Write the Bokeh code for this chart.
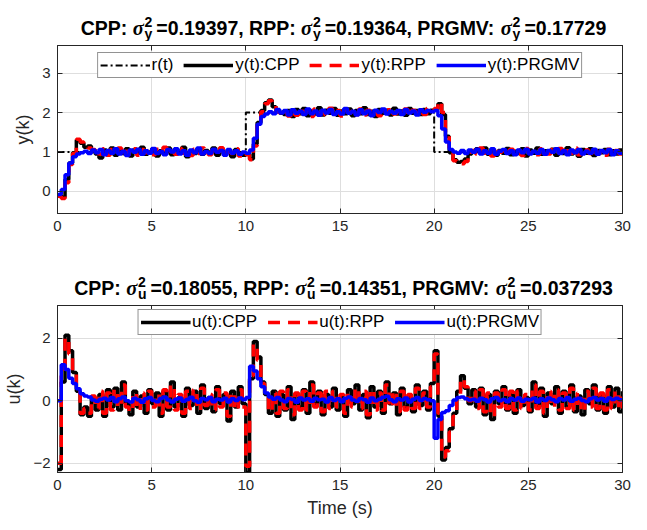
import numpy as np
from bokeh.plotting import figure
from bokeh.models import Range1d, LinearAxis, FixedTicker
from bokeh.core.properties import value
from bokeh.layouts import column
from bokeh.embed import file_html
from bokeh.resources import INLINE

# ---------------------------------------------------------------- data
SAMPLE_TIME = 0.2  # s

# reference r(t): level held from each switch time
ref_switch_times = [0, 10, 20, 30]
ref_levels = [1, 2, 1, 1]

y_cpp = [
    -0.10, -0.15, 0.30, 0.72, 0.98, 1.30, 1.22, 1.12, 1.15, 1.05,
    0.95, 0.85, 1.05, 0.98, 1.10, 0.92, 1.04, 0.96, 1.08, 0.90,
    1.05, 0.97, 1.12, 0.94, 1.00, 1.08, 0.90, 1.03, 0.95, 1.10,
    0.93, 1.06, 0.98, 1.12, 0.88, 1.02, 0.96, 1.08, 0.94, 1.04,
    0.97, 1.10, 0.92, 1.05, 0.95, 1.03, 0.88, 1.06, 0.97, 0.92,
    0.95, 0.82, 1.20, 1.75, 2.05, 2.25, 2.32, 2.15, 2.05, 1.98,
    1.95, 2.05, 1.90, 2.08, 1.97, 2.10, 1.92, 2.04, 1.96, 2.12,
    1.94, 2.06, 1.98, 2.10, 1.93, 2.04, 1.97, 2.09, 1.92, 2.05,
    1.97, 2.12, 1.95, 2.03, 1.90, 2.08, 1.98, 2.06, 1.94, 2.11,
    1.96, 2.04, 1.93, 2.10, 1.98, 2.05, 1.95, 2.08, 1.97, 2.06,
    2.08, 2.22, 1.95, 1.40, 0.98, 0.80, 0.74, 0.76, 0.82, 0.95,
    1.02, 1.08, 0.98, 1.10, 0.94, 1.05, 0.92, 1.04, 0.97, 1.09,
    0.93, 1.02, 0.96, 1.08, 0.90, 1.05, 0.97, 1.10, 0.94, 1.03,
    0.98, 1.07, 0.92, 1.04, 0.96, 1.11, 0.95, 1.02, 0.89, 1.06,
    0.97, 1.08, 0.91, 1.04, 0.98, 1.06, 0.93, 1.03, 0.95, 1.05,
    0.97,
]

y_rpp = [
    -0.12, -0.18, 0.22, 0.68, 0.96, 1.32, 1.25, 1.15, 1.10, 1.06,
    0.90, 0.95, 1.08, 0.92, 1.06, 0.97, 1.10, 0.93, 1.02, 0.95,
    1.08, 0.92, 1.06, 0.98, 1.04, 0.93, 1.07, 0.99, 1.12, 0.95,
    1.01, 0.94, 1.09, 0.97, 1.03, 0.91, 1.07, 0.96, 1.10, 0.98,
    0.93, 1.05, 0.99, 1.11, 0.94, 1.02, 0.96, 1.08, 0.90, 0.97,
    0.93, 0.80, 1.15, 1.72, 2.02, 2.22, 2.30, 2.18, 2.02, 1.94,
    2.02, 1.91, 2.06, 1.93, 2.08, 1.99, 2.05, 1.90, 2.09, 1.97,
    2.02, 1.93, 2.11, 1.96, 2.05, 1.91, 2.07, 1.99, 2.04, 1.95,
    2.09, 1.94, 2.06, 1.98, 2.03, 1.92, 2.07, 2.00, 2.12, 1.96,
    2.03, 1.97, 2.09, 1.93, 2.06, 1.99, 2.04, 1.95, 2.10, 2.04,
    2.10, 2.27, 2.00, 1.45, 1.00, 0.78, 0.72, 0.70, 0.76, 0.93,
    1.04, 0.95, 1.10, 0.97, 1.05, 0.90, 1.06, 0.99, 1.03, 0.94,
    1.07, 0.96, 1.04, 0.91, 1.09, 0.98, 1.02, 0.93, 1.08, 1.00,
    0.95, 1.06, 0.98, 1.09, 0.94, 1.03, 0.97, 1.10, 0.93, 1.01,
    1.05, 0.96, 1.08, 0.95, 1.02, 0.92, 1.07, 0.99, 1.04, 0.95,
    0.98,
]

y_prgmv = [
    -0.08, 0.05, 0.42, 0.72, 0.88, 0.95, 0.98, 1.02, 0.96, 1.05,
    0.98, 1.06, 0.93, 1.04, 0.97, 1.08, 0.95, 1.02, 0.91, 1.05,
    0.99, 1.07, 0.94, 1.03, 0.97, 1.09, 0.96, 1.01, 0.93, 1.06,
    1.00, 1.08, 0.95, 1.03, 0.92, 1.05, 0.98, 1.10, 0.95, 1.01,
    0.96, 1.07, 0.99, 1.04, 0.92, 1.06, 0.97, 1.03, 0.94, 1.00,
    0.97, 1.05, 1.35, 1.70, 1.90, 1.96, 2.02, 1.97, 2.08, 1.99,
    2.05, 1.94, 2.07, 1.98, 2.03, 1.95, 2.09, 1.97, 2.04, 1.93,
    2.06, 1.99, 2.08, 1.95, 2.02, 1.96, 2.10, 1.98, 2.03, 1.94,
    2.07, 1.97, 2.04, 1.92, 2.06, 2.00, 2.09, 1.96, 2.03, 1.98,
    2.05, 1.95, 2.08, 1.99, 2.04, 1.94, 2.07, 2.01, 2.05, 2.02,
    2.05, 1.92, 1.58, 1.25, 1.06, 1.00, 0.97, 1.04, 0.96, 1.05,
    0.99, 1.07, 0.95, 1.03, 0.97, 1.08, 0.94, 1.02, 1.06, 0.96,
    1.03, 0.93, 1.05, 0.98, 1.07, 0.95, 1.02, 0.97, 1.06, 0.94,
    1.04, 0.99, 1.08, 0.96, 1.03, 0.93, 1.05, 0.98, 1.06, 0.95,
    1.02, 0.97, 1.07, 0.94, 1.04, 0.98, 1.06, 0.93, 1.03, 0.97,
    0.95,
]

u_cpp = [
    -2.20, 0.60, 2.10, 1.60, 0.90, 0.30, -0.45, -0.20, -0.50, 0.10,
    -0.30, 0.20, -0.50, 0.35, -0.20, 0.40, -0.30, 0.60, -0.10, -0.45,
    0.30, -0.20, 0.15, -0.40, 0.35, -0.10, 0.25, -0.50, 0.30, -0.30,
    0.60, -0.20, 0.10, -0.50, 0.40, -0.15, 0.30, -0.40, 0.50, -0.25,
    0.10, -0.35, 0.45, -0.10, 0.20, -0.65, 0.30, -0.20, 0.45, -0.10,
    -2.30, 0.70, 1.90, 1.40, 0.60, 0.20, -0.40, 0.30, -0.50, 0.20,
    -0.30, 0.45, -0.60, 0.20, -0.20, 0.35, -0.40, 0.60, -0.10, 0.30,
    -0.45, 0.20, -0.20, 0.40, -0.30, 0.10, -0.50, 0.35, -0.10, 0.50,
    -0.30, 0.20, -0.55, 0.45, -0.20, 0.30, -0.40, 0.60, -0.10, 0.25,
    -0.45, 0.40, -0.20, 0.10, -0.35, 0.50, -0.15, 0.30, -0.30, 0.55,
    1.60, -0.50, -1.90, -1.50, -0.90, -0.40, 0.30, 0.80, 0.40, -0.10,
    0.35, -0.20, 0.40, -0.45, 0.20, -0.60, 0.30, -0.10, 0.45, -0.30,
    0.20, -0.40, 0.35, -0.15, 0.10, -0.35, 0.60, -0.20, 0.40, -0.50,
    0.25, -0.10, 0.45, -0.40, 0.30, -0.20, 0.50, -0.35, 0.15, -0.45,
    0.35, -0.10, 0.50, -0.30, 0.20, -0.40, 0.45, -0.20, 0.40, -0.35,
    0.30,
]

u_rpp = [
    -2.00, 0.80, 2.00, 1.50, 0.85, 0.25, -0.40, -0.25, -0.40, 0.15,
    -0.25, 0.30, -0.40, 0.25, -0.30, 0.35, -0.20, 0.50, -0.20, -0.35,
    0.25, -0.30, 0.25, -0.30, 0.30, -0.20, 0.20, -0.40, 0.35, -0.20,
    0.50, -0.30, 0.20, -0.40, 0.30, -0.25, 0.35, -0.30, 0.40, -0.15,
    0.20, -0.30, 0.35, -0.20, 0.25, -0.50, 0.25, -0.30, 0.35, -0.20,
    -2.10, 0.80, 1.80, 1.30, 0.55, 0.15, -0.35, 0.25, -0.40, 0.30,
    -0.25, 0.35, -0.45, 0.25, -0.30, 0.30, -0.30, 0.50, -0.20, 0.25,
    -0.35, 0.30, -0.25, 0.30, -0.20, 0.20, -0.40, 0.25, -0.20, 0.40,
    -0.25, 0.30, -0.45, 0.35, -0.30, 0.25, -0.30, 0.50, -0.20, 0.30,
    -0.35, 0.30, -0.30, 0.20, -0.25, 0.40, -0.25, 0.25, -0.20, 0.45,
    1.50, -0.40, -1.80, -1.60, -1.00, -0.50, 0.20, 0.70, 0.45, 0.00,
    0.30, -0.25, 0.35, -0.35, 0.25, -0.50, 0.25, -0.20, 0.35, -0.25,
    0.30, -0.30, 0.30, -0.25, 0.20, -0.30, 0.50, -0.25, 0.30, -0.40,
    0.30, -0.20, 0.35, -0.30, 0.25, -0.25, 0.40, -0.30, 0.25, -0.35,
    0.30, -0.20, 0.40, -0.25, 0.25, -0.30, 0.35, -0.25, 0.30, -0.30,
    0.25,
]

u_prgmv = [
    0.00, 1.15, 1.00, 0.72, 0.55, 0.38, 0.22, 0.15, 0.12, 0.02,
    -0.02, 0.05, 0.08, 0.02, 0.10, -0.03, 0.06, 0.12, 0.00, -0.04,
    0.08, 0.03, -0.05, 0.06, 0.10, 0.01, -0.03, 0.07, 0.12, 0.02,
    -0.04, 0.05, 0.09, -0.02, 0.04, 0.11, 0.00, -0.05, 0.07, 0.03,
    0.10, -0.03, 0.05, 0.02, 0.08, -0.04, 0.06, 0.01, 0.09, 0.03,
    0.10, 1.10, 0.95, 0.70, 0.45, 0.25, 0.12, 0.05, 0.10, 0.02,
    -0.03, 0.07, 0.04, -0.05, 0.09, 0.02, 0.06, -0.02, 0.08, 0.03,
    0.05, -0.04, 0.10, 0.01, 0.06, -0.03, 0.08, 0.12, 0.02, -0.02,
    0.07, 0.03, -0.05, 0.09, 0.00, 0.05, 0.11, 0.14, 0.03, -0.03,
    0.06, 0.02, 0.09, -0.04, 0.05, 0.10, 0.01, 0.07, 0.03, 0.00,
    -1.20, -0.60, -0.38, -0.32, -0.15, 0.02, 0.10, 0.12, 0.06, 0.02,
    0.05, -0.02, 0.08, 0.03, -0.04, 0.06, 0.10, 0.00, 0.04, -0.03,
    0.07, 0.02, 0.09, -0.02, 0.05, 0.03, 0.08, -0.04, 0.06, 0.01,
    0.09, 0.03, -0.03, 0.07, 0.02, 0.10, -0.02, 0.05, 0.08, 0.01,
    -0.03, 0.06, 0.10, 0.02, 0.07, -0.02, 0.09, 0.04, 0.08, 0.03,
    0.06,
]

controllers = ["CPP", "RPP", "PRGMV"]
var_y = [0.19397, 0.19364, 0.17729]
var_u = [0.18055, 0.14351, 0.037293]

x_ticks = [0, 5, 10, 15, 20, 25, 30]
y_ticks_top = [0, 1, 2, 3]
y_ticks_bottom = [-2, 0, 2]

t = np.arange(len(y_cpp)) * SAMPLE_TIME

# ---------------------------------------------------------------- style
AX = "#262626"
GRID = "#dedede"
FONT = "Liberation Sans"
SERIF = "Liberation Serif"
W = 647
FRAME_LEFT, FRAME_RIGHT = 57, 25
X_RANGE = (0, 30)
TITLE_CENTER = 343

# Liberation Sans Bold advance widths (em) for the title characters
BOLD_ADV = {" ": 0.278, ",": 0.278, ".": 0.278, ":": 0.333, "=": 0.584,
            "C": 0.722, "G": 0.778, "M": 0.833, "P": 0.667, "R": 0.722,
            "V": 0.667, "u": 0.611, "y": 0.556, "2": 0.556}


def text_width(s, size):
    return sum(BOLD_ADV.get(c, 0.556) for c in s) * size


def make_fig(height, top, bottom, y_range, y_ticks, ylabel, xlabel=None):
    p = figure(width=W, height=height,
               x_range=Range1d(*X_RANGE), y_range=Range1d(*y_range),
               output_backend="svg", toolbar_location=None,
               min_border_left=FRAME_LEFT, min_border_right=FRAME_RIGHT,
               min_border_top=top, min_border_bottom=bottom)
    p.background_fill_color = "white"
    p.border_fill_color = "white"
    p.outline_line_color = AX
    p.outline_line_width = 1

    p.xaxis.ticker = FixedTicker(ticks=x_ticks)
    p.yaxis.ticker = FixedTicker(ticks=y_ticks)
    # box axes on the top and right: inward ticks only
    top_ax = LinearAxis(ticker=FixedTicker(ticks=x_ticks),
                        major_label_overrides={v: "" for v in x_ticks})
    right_ax = LinearAxis(ticker=FixedTicker(ticks=y_ticks),
                          major_label_overrides={v: "" for v in y_ticks})
    p.add_layout(top_ax, "above")
    p.add_layout(right_ax, "right")
    for ax in p.axis:
        ax.axis_line_color = AX
        ax.axis_line_width = 1
        ax.major_tick_line_color = AX
        ax.major_tick_in = 5
        ax.major_tick_out = 0
        ax.minor_tick_line_color = None
        ax.major_label_text_font = FONT
        ax.major_label_text_font_size = "15px"
        ax.major_label_text_color = AX
        ax.major_label_standoff = 7
    for ax in (top_ax, right_ax):
        ax.major_label_text_font_size = "1px"
        ax.major_label_standoff = 0

    left = p.left[0]
    left.axis_label = ylabel
    left.axis_label_text_font = FONT
    left.axis_label_text_font_size = "18px"
    left.axis_label_text_font_style = "normal"
    left.axis_label_text_color = AX
    left.axis_label_standoff = 6
    if xlabel:
        below = p.below[0]
        below.axis_label = xlabel
        below.axis_label_text_font = FONT
        below.axis_label_text_font_size = "18px"
        below.axis_label_text_font_style = "normal"
        below.axis_label_text_color = AX
        below.axis_label_standoff = 5

    p.xgrid.grid_line_color = GRID
    p.ygrid.grid_line_color = GRID
    return p


def style_legend(p, margin):
    lg = p.legend[0]
    lg.orientation = "horizontal"
    lg.location = "top_center"
    lg.margin = margin
    lg.padding = 2
    lg.spacing = 10
    lg.glyph_width = 50
    lg.glyph_height = 20
    lg.label_standoff = 2
    lg.label_height = 20
    lg.label_text_font = FONT
    lg.label_text_font_size = "17px"
    lg.label_text_color = "#000000"
    lg.border_line_color = AX
    lg.border_line_width = 1
    lg.background_fill_color = "white"
    lg.background_fill_alpha = 1.0


def title_strip(height, baseline, sub, variances):
    """Bold title line with a stacked sigma^2_sub after each controller name.
    The strip's frame lines up with the plot frames below it; its data
    coordinates are page pixels (x from the page's left, y down from the strip top)."""
    s = figure(width=W, height=height,
               x_range=Range1d(FRAME_LEFT, W - FRAME_RIGHT), y_range=Range1d(height, 0),
               output_backend="svg", toolbar_location=None,
               x_axis_location=None, y_axis_location=None,
               min_border_left=FRAME_LEFT, min_border_right=FRAME_RIGHT,
               min_border_top=0, min_border_bottom=0)
    s.grid.visible = False
    s.outline_line_color = None
    s.background_fill_color = "white"
    s.border_fill_color = "white"

    main, script = 19.5, 14.0
    sigma_adv = 0.58 * main
    slot = text_width(sub, script) + 4.5

    pieces = []
    for i, (name, v) in enumerate(zip(controllers, variances)):
        if i == 0:
            pieces.append(("text", f"{name}: "))
        pieces.append(("sigma", None))
        nxt = f", {controllers[i + 1]}: " if i < len(controllers) - 1 else ""
        pieces.append(("text", f"={v}{nxt}"))

    total = sum(text_width(txt, main) if kind == "text" else sigma_adv + slot
                for kind, txt in pieces)
    x = TITLE_CENTER - total / 2
    tx, tt, gx, sx = [], [], [], []
    for kind, txt in pieces:
        if kind == "text":
            tx.append(x)
            tt.append(txt)
            x += text_width(txt, main)
        else:
            gx.append(x)
            sx.append(x + sigma_adv + 0.5)
            x += sigma_adv + slot

    common = dict(text_align="left", text_baseline="alphabetic", text_color="#000000")
    s.text(x=tx, y=[baseline] * len(tx), text=tt, text_font=value(FONT),
           text_font_size=f"{main}px", text_font_style="bold", **common)
    s.text(x=gx, y=[baseline] * len(gx), text=["\u03c3"] * len(gx), text_font=value(SERIF),
           text_font_size=f"{main + 1}px", text_font_style="bold italic", **common)
    s.text(x=sx, y=[baseline - 6] * len(sx), text=["2"] * len(sx), text_font=value(FONT),
           text_font_size=f"{script}px", text_font_style="bold", **common)
    s.text(x=sx, y=[baseline + 6.5] * len(sx), text=[sub] * len(sx), text_font=value(FONT),
           text_font_size=f"{script}px", text_font_style="bold", **common)
    return s


# ---------------------------------------------------------------- output y(k)
TOP_RANGE = (-0.56, 3.7)
title_y = title_strip(41, 27, "y", var_y)
p1 = make_fig(221, 4, 49, TOP_RANGE, y_ticks_top, "y(k)")
p1.step(ref_switch_times, ref_levels, mode="after", line_color="black", line_width=2,
        line_dash="7 3 2 3", legend_label="r(t)")
p1.step(t, y_cpp, mode="after", line_color="black", line_width=3.5, legend_label="y(t):CPP")
p1.step(t, y_rpp, mode="after", line_color="#ff0000", line_width=3.5, line_dash="12 8",
        legend_label="y(t):RPP")
p1.step(t, y_prgmv, mode="after", line_color="#0000ff", line_width=3.5,
        legend_label="y(t):PRGMV")
style_legend(p1, 7)

# ---------------------------------------------------------------- control u(k)
BOT_RANGE = (-2.3, 3.05)
title_u = title_strip(39, 25, "u", var_u)
p2 = make_fig(229, 4, 58, BOT_RANGE, y_ticks_bottom, "u(k)", "Time (s)")
p2.step(t, u_cpp, mode="after", line_color="black", line_width=3.5, legend_label="u(t):CPP")
p2.step(t, u_rpp, mode="after", line_color="#ff0000", line_width=3.5, line_dash="12 8",
        legend_label="u(t):RPP")
p2.step(t, u_prgmv, mode="after", line_color="#0000ff", line_width=3.5,
        legend_label="u(t):PRGMV")
style_legend(p2, 4)

layout = column(title_y, p1, title_u, p2, spacing=0)
open("out.html", "w").write(file_html(layout, INLINE, title="PRGMV comparison"))
